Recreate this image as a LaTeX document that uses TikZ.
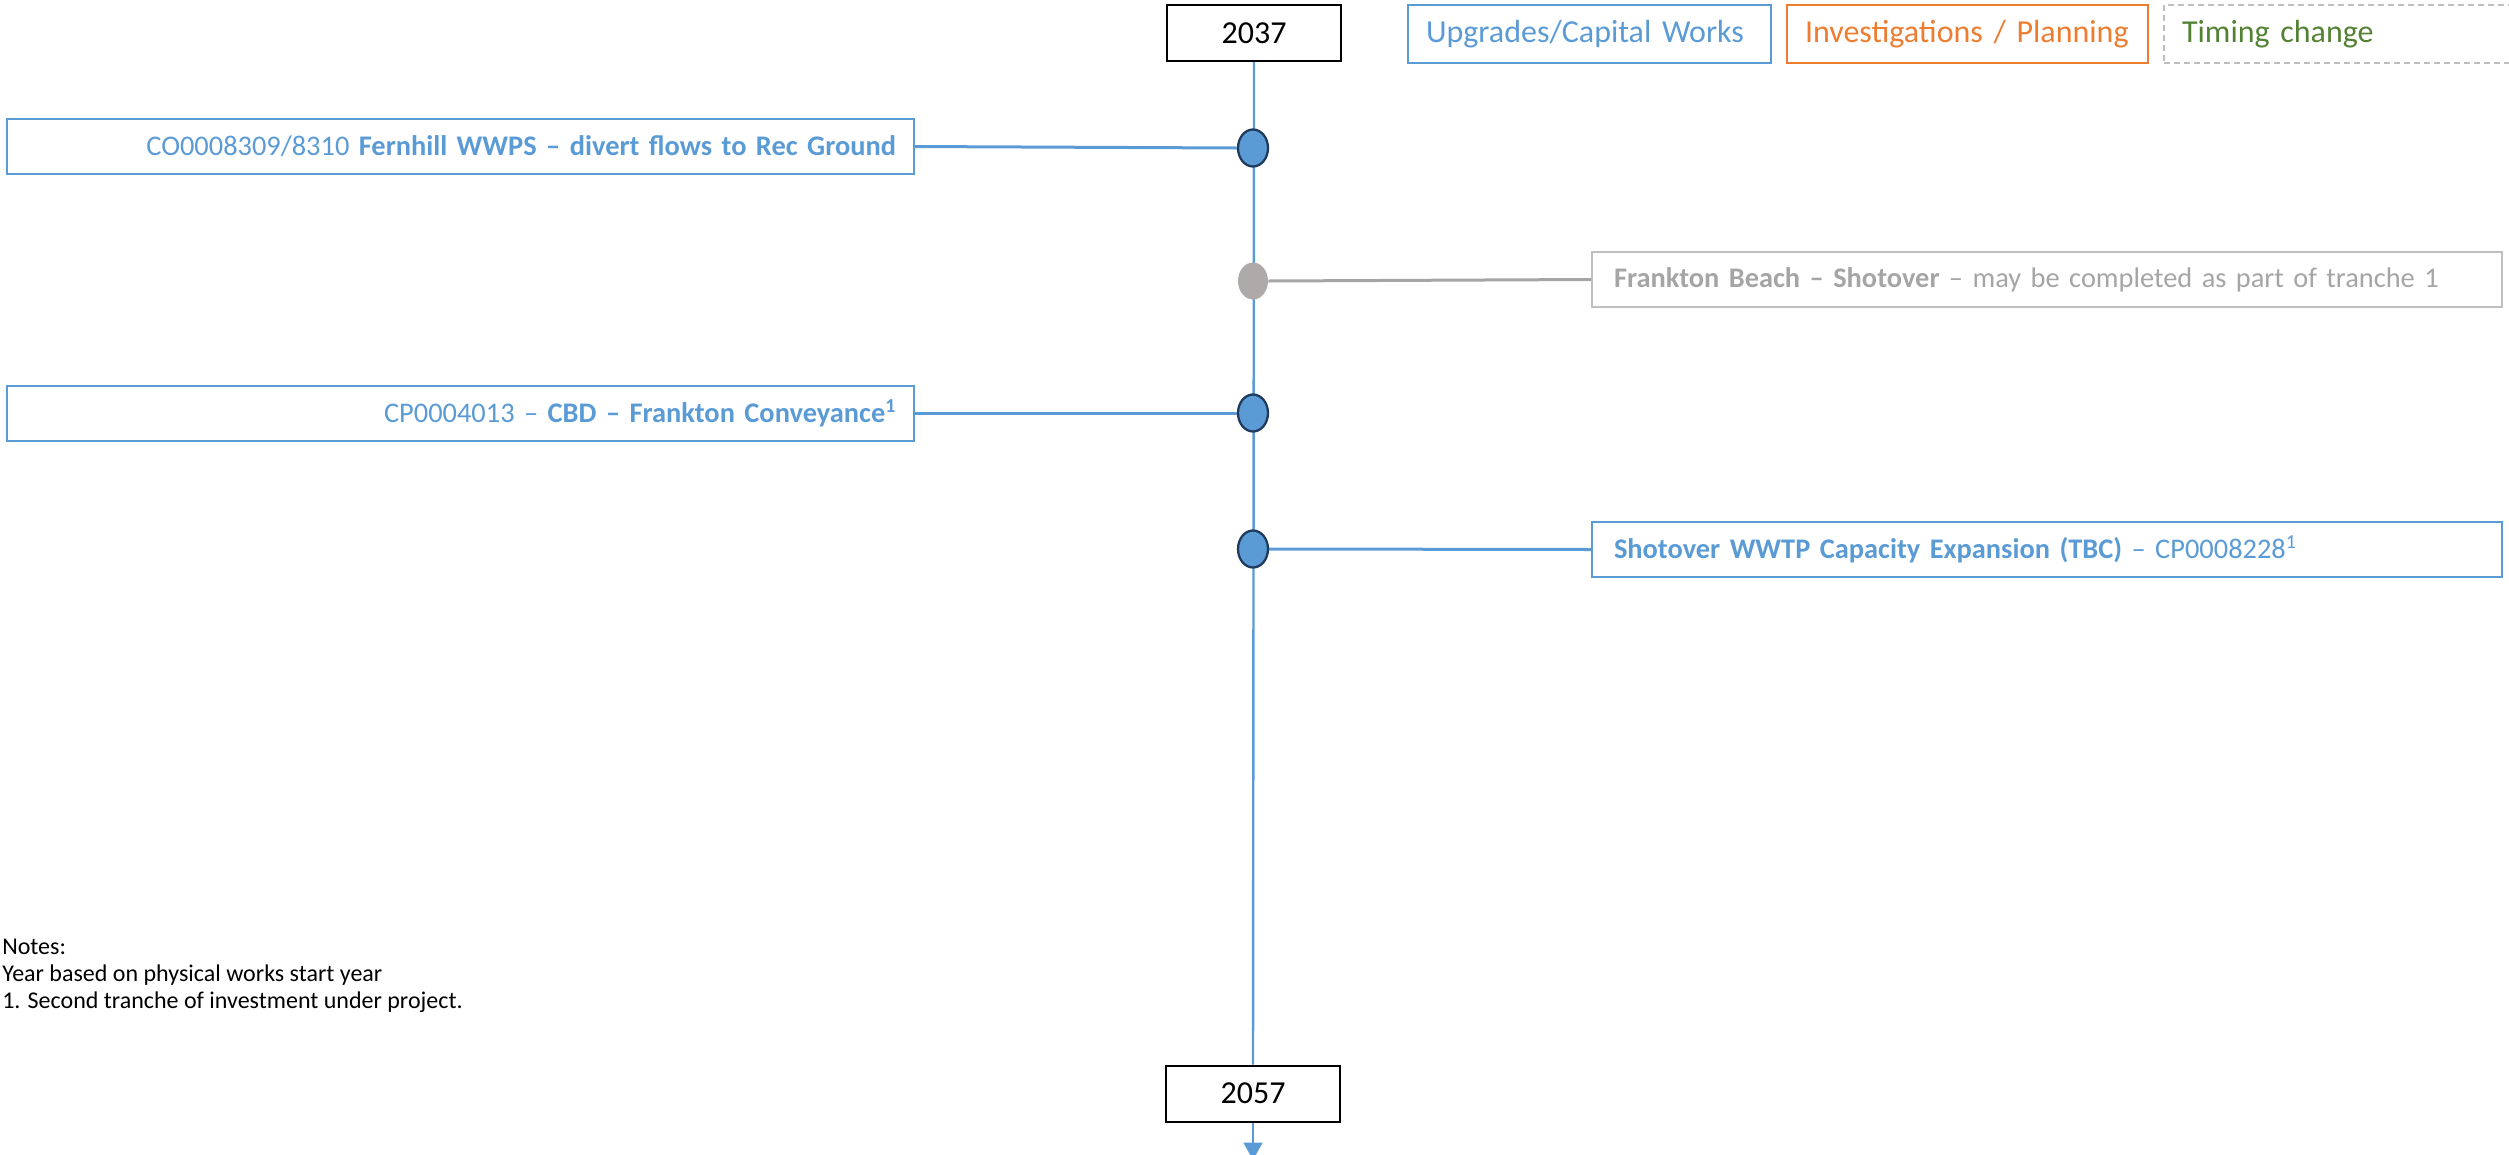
\documentclass[tikz,border=0pt]{standalone}
\usepackage{fontspec}
\setmainfont{Carlito}
\usetikzlibrary{arrows.meta,shapes.geometric}
\definecolor{cblue}{HTML}{5B9BD5}
\definecolor{corange}{HTML}{ED7D31}
\definecolor{cgreen}{HTML}{548235}
\definecolor{cgrey}{HTML}{A5A5A5}
\definecolor{cgreyline}{HTML}{BFBFBF}
\definecolor{cdark}{HTML}{1F3A5C}
\definecolor{cgreydot}{HTML}{AEAAAA}
\begin{document}
\begin{tikzpicture}[x=0.75pt,y=-0.75pt,
  bigfont/.style={font=\fontsize{24}{28}\selectfont},
  boxfont/.style={font=\fontsize{21.3}{25}\selectfont},
  yearbox/.style={draw=black, line width=1.5pt, minimum width=130.5pt, minimum height=42pt, inner sep=0pt, bigfont, text=black},
  legendbox/.style={line width=1.5pt, minimum height=43.5pt, inner ysep=0pt, inner xsep=13.5pt, align=left, bigfont},
  leftbox/.style={draw=cblue, line width=1.5pt, minimum height=41.25pt, inner ysep=0pt, inner xsep=13.5pt, text width=653.25pt, align=right, boxfont, text=cblue},
  rightbox/.style={line width=1.5pt, minimum height=41.25pt, inner ysep=0pt, inner xsep=16.5pt, text width=649.5pt, align=left, boxfont},
  dot/.style={ellipse, minimum width=22.5pt, minimum height=27.75pt, inner sep=0pt},
  bluedot/.style={dot, fill=cblue, draw=cdark, line width=1.7pt},
  greydot/.style={dot, fill=cgreydot},
  vline/.style={draw=cblue, line width=1.8pt},
  conn/.style={draw=cblue, line width=2.25pt},
  greyconn/.style={draw=cgrey, line width=2.25pt},
  notefont/.style={font=\fontsize{18}{20}\selectfont, inner sep=0pt, anchor=base west}
]
\useasboundingbox (0,0) rectangle (2509,1154);

% year boxes
\node[yearbox] (y1) at (1254,33) {2037};
\node[yearbox] (y2) at (1253,1093.5) {2057};

% legend
\node[legendbox, draw=cblue, text=cblue, text width=245.25pt] (lg1) at (1589.5,34) {Upgrades/Capital Works};
\node[legendbox, draw=corange, text=corange, text width=243.75pt] (lg2) at (1967.5,34) {Investigations / Planning};
\node[legendbox, draw=cgreyline, dashed, dash pattern=on 4.5pt off 3pt, text=cgreen, text width=240pt] (lg3) at (2342,34) {Timing change};

% timeline
\coordinate (tail) at (1253,1160);
\draw[vline] (y1.south) -- (y2.north);
\draw[vline, -{Triangle[width=14pt,length=13pt]}] (y2.south) -- (tail);

% dots
\node[bluedot] (d1) at (1253,148) {};
\node[greydot] (d2) at (1253,281) {};
\node[bluedot] (d3) at (1253,413) {};
\node[bluedot] (d4) at (1253,549) {};

% project boxes
\node[leftbox] (b1) at (460.5,146.5) {CO0008309/8310 \textbf{Fernhill WWPS – divert flows to Rec Ground}};
\node[rightbox, draw=cgreyline, text=cgrey] (b2) at (2047,279.5) {\textbf{Frankton Beach – Shotover} – may be completed as part of tranche 1};
\node[leftbox] (b3) at (460.5,413) {CP0004013 – \textbf{CBD – Frankton Conveyance\textsuperscript{1}}};
\node[rightbox, draw=cblue, text=cblue] (b4) at (2047,549.5) {\textbf{Shotover WWTP Capacity Expansion (TBC)} – CP0008228\textsuperscript{1}};

% connectors
\draw[conn] (b1.east) -- (d1.west);
\draw[greyconn] (d2.east) -- (b2.west);
\draw[conn] (b3.east) -- (d3.west);
\draw[conn] (d4.east) -- (b4.west);

% notes
\node[notefont] (n1) at (2,954) {Notes:};
\node[notefont] (n2) at (2,981) {Year based on physical works start year};
\node[notefont] (n3) at (2,1008) {1. Second tranche of investment under project.};
\end{tikzpicture}
\end{document}
